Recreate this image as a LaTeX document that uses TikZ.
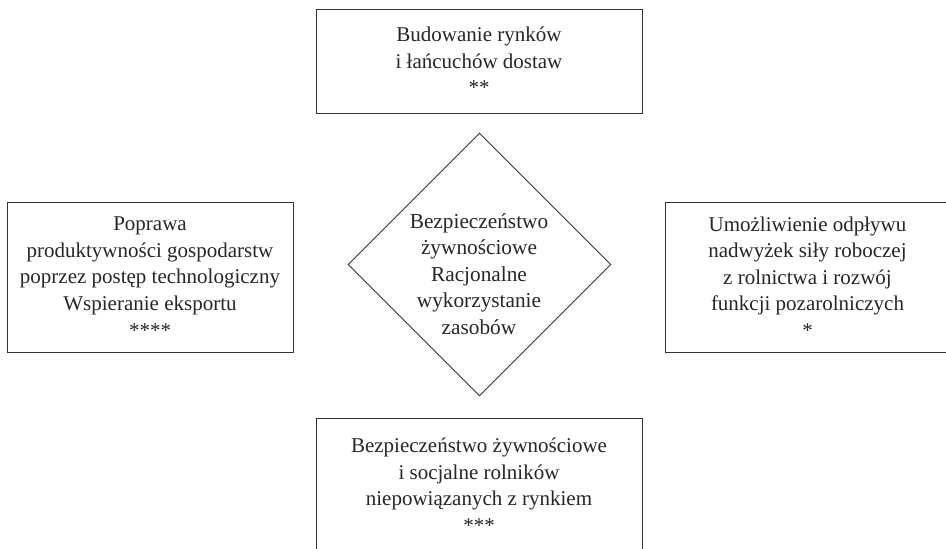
\documentclass[tikz,border=0pt]{standalone}
\usepackage{fontspec}
\setmainfont{Liberation Serif}
\usetikzlibrary{shapes.geometric}
\begin{document}
\begin{tikzpicture}[x=1pt,y=-1pt,
  frame/.style={draw=black!80,line width=0.9pt,rectangle,inner sep=0pt,align=center,
    font=\fontsize{21}{26.6}\selectfont,text=black!85},
  txt/.style={inner sep=0pt,align=center,font=\fontsize{21.3}{26.6}\selectfont,text=black!85},
  rhomb/.style={draw=black!80,line width=0.9pt,diamond,aspect=1,inner sep=0pt,minimum size=263pt}]
\useasboundingbox (0,0) rectangle (946,549);
\clip (0,0) rectangle (946,549);
\fill[white] (0,0) rectangle (946,549);
\node[frame,minimum width=326pt,minimum height=104pt] (top) at (479,61)
  {Budowanie rynków\\i łańcuchów dostaw\\**};
\node[frame,minimum width=286pt,minimum height=150pt] (left) at (150,277)
  {Poprawa\\produktywności gospodarstw\\poprzez postęp technologiczny\\Wspieranie eksportu\\****};
\node[frame,minimum width=285pt,minimum height=150pt] (right) at (807.5,277)
  {Umożliwienie odpływu\\nadwyżek siły roboczej\\z rolnictwa i rozwój\\funkcji pozarolniczych\\*};
\node[frame,minimum width=326pt,minimum height=134pt] (bottom) at (479,485)
  {Bezpieczeństwo żywnościowe\\i socjalne rolników\\niepowiązanych z rynkiem\\***};
\node[rhomb] (dia) at (479.5,264.5) {};
\node[txt] (diatext) at (479,274) {Bezpieczeństwo\\żywnościowe\\Racjonalne\\wykorzystanie\\zasobów};
\end{tikzpicture}
\end{document}
